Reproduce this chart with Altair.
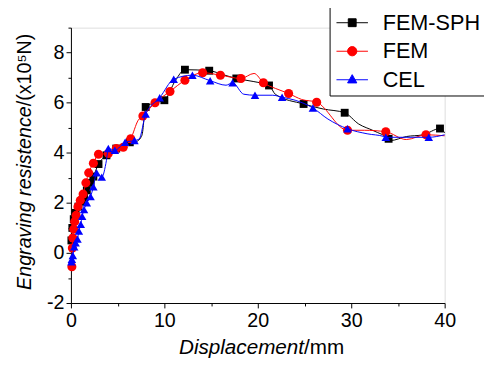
import altair as alt
import pandas as pd

# ---------------- data ----------------
series_names = ["FEM-SPH", "FEM", "CEL"]
series_colors = ["#000000", "#ff0000", "#0000ff"]

sph_x = [0.05, 0.15, 0.3, 0.5, 0.8, 1.1, 1.4, 1.7, 2.1, 2.4, 2.95, 3.8, 4.85, 6.3, 7.0, 7.6, 8.0,
         9.0, 10.0, 11.2, 12.2, 14.8, 16.3, 17.7, 19.5, 21.2, 21.9, 24.9, 27.0, 29.3, 30.8, 32.4,
         34.0, 34.2, 35.9, 37.7, 39.5, 40.0]
sph_y = [0.5, 1.0, 1.35, 1.6, 1.85, 2.05, 2.2, 2.5, 2.8, 3.05, 3.55, 3.9, 4.17, 4.42, 4.45, 4.7, 5.83,
         6.0, 6.1, 6.9, 7.32, 7.28, 7.12, 6.97, 6.85, 6.69, 6.33, 5.95, 5.75, 5.6, 5.15, 4.88,
         4.56, 4.49, 4.65, 4.72, 4.97, 4.8]
sph_mark = [1, 1, 1, 1, 1, 1, 1, 1, 1, 1, 1, 1, 1, 1, 0, 0, 1,
            0, 1, 0, 1, 1, 0, 1, 0, 1, 0, 1, 0, 1, 0, 0,
            1, 0, 0, 0, 1, 0]

fem_x = [0.1, 0.15, 0.2, 0.3, 0.4, 0.55, 0.75, 1.0, 1.3, 1.6, 1.9, 2.4, 2.95, 4.0, 4.85, 5.6, 6.4,
         7.2, 7.7, 9.0, 10.6, 12.2, 14.1, 16.0, 18.2, 19.6, 20.6, 21.9, 23.3, 24.7, 26.3, 29.6,
         31.4, 33.7, 35.9, 38.0, 40.0]
fem_y = [-0.55, 0.2, 0.6, 0.95, 1.25, 1.5, 1.85, 2.1, 2.35, 2.8, 3.2, 3.58, 3.94, 3.97, 4.17, 4.22, 4.56,
         5.3, 5.47, 6.0, 6.45, 6.9, 7.2, 7.1, 6.97, 7.17, 6.8, 6.57, 6.37, 6.13, 6.02, 4.9,
         4.9, 4.84, 4.53, 4.72, 4.68]
fem_mark = [1, 1, 1, 1, 1, 1, 1, 1, 1, 1, 1, 1, 1, 1, 1, 1, 1,
            0, 1, 1, 1, 1, 1, 1, 1, 0, 1, 0, 1, 0, 1, 1,
            0, 1, 0, 1, 0]

cel_x = [0.05, 0.1, 0.2, 0.35, 0.5, 0.7, 0.85, 1.05, 1.2, 1.4, 1.7, 2.1, 2.4, 2.75, 3.3, 3.8, 4.0,
         4.7, 5.8, 6.8, 7.3, 8.0, 9.5, 11.0, 13.0, 14.9, 16.6, 17.3, 18.5, 19.7, 21.6, 22.6, 24.0,
         25.9, 27.5, 29.6, 31.7, 33.5, 33.7, 38.3, 40.0]
cel_y = [-0.35, -0.25, -0.1, 0.24, 0.4, 0.55, 0.87, 1.14, 1.46, 1.73, 2.0, 2.25, 2.64, 3.2, 3.03, 3.7, 4.17,
         4.1, 4.42, 4.49, 4.55, 5.55, 6.2, 6.94, 7.1, 6.88, 6.7, 6.8, 6.34, 6.3, 6.3, 6.22, 6.1,
         5.79, 5.35, 4.96, 4.76, 4.65, 4.62, 4.62, 4.72]
cel_mark = [1, 1, 1, 1, 1, 1, 1, 1, 1, 1, 1, 1, 1, 1, 1, 0, 1,
            1, 1, 1, 0, 1, 1, 1, 1, 1, 0, 1, 0, 1, 0, 1, 0,
            1, 0, 1, 0, 0, 1, 1, 0]

x_ticks = [0, 5, 10, 15, 20, 25, 30, 35, 40]
y_ticks = [-2, -1, 0, 1, 2, 3, 4, 5, 6, 7, 8, 9]

# ---------------- frames ----------------
rows = []
for name, xs, ys, ms in [("FEM-SPH", sph_x, sph_y, sph_mark),
                         ("FEM", fem_x, fem_y, fem_mark),
                         ("CEL", cel_x, cel_y, cel_mark)]:
    for i, (xv, yv, mv) in enumerate(zip(xs, ys, ms)):
        rows.append({"series": name, "x": xv, "y": yv, "idx": i, "m": mv})
df = pd.DataFrame(rows)

FONT = "Liberation Sans"

xscale = alt.Scale(domain=[0, 40], nice=False, zero=False)
yscale = alt.Scale(domain=[-2, 9], nice=False, zero=False)

tick_cond_x = {"condition": {"test": "datum.value % 10 !== 0", "value": 3}, "value": 5}
tick_cond_y = {"condition": {"test": "datum.value % 2 !== 0", "value": 3}, "value": 5}

xaxis = alt.Axis(values=x_ticks, title=None, grid=False,
                 labelExpr="datum.value % 10 === 0 ? '' + datum.value : ''",
                 labelFont=FONT, labelFontSize=20, labelColor="black",
                 labelPadding=3, tickSize=tick_cond_x, tickColor="black",
                 domainColor="black", labelFlush=False, labelOverlap=False)
yaxis = alt.Axis(values=y_ticks, title=None, grid=False,
                 labelExpr="(datum.value % 2 === 0 && datum.value <= 8) ? '' + datum.value : ''",
                 labelFont=FONT, labelFontSize=20, labelColor="black",
                 labelPadding=2, tickSize=tick_cond_y, tickColor="black",
                 domainColor="black", labelFlush=False, labelOverlap=False)

enc_x = alt.X("x:Q", scale=xscale, axis=xaxis)
enc_y = alt.Y("y:Q", scale=yscale, axis=yaxis)

base = alt.Chart(df)

shapes = {"FEM-SPH": "square", "FEM": "circle", "CEL": "triangle-up"}
sizes = {"FEM-SPH": 64, "FEM": 85, "CEL": 75}

layers = []
for name, col in zip(series_names, series_colors):
    line = base.transform_filter(alt.datum.series == name).mark_line(
        interpolate="monotone", strokeWidth=1, color=col
    ).encode(x=enc_x, y=enc_y, order="idx:Q")
    pts = base.transform_filter((alt.datum.series == name) & (alt.datum.m == 1)).mark_point(
        filled=True, shape=shapes[name], size=sizes[name], color=col, opacity=1
    ).encode(x=enc_x, y=enc_y)
    layers += [line, pts]

# legend layer (hidden point, clipped away) with line+marker symbols
sq = "M-1.6,0H1.6M-0.4,-0.4H0.4V0.4H-0.4Z"
ci = "M-1.6,0H1.6M-0.47,0A0.47,0.47,0,1,0,0.47,0A0.47,0.47,0,1,0,-0.47,0Z"
tr = "M-1.6,0H1.6M0,-0.52L0.47,0.32H-0.47Z"
leg_df = pd.DataFrame({"series": series_names})
legend = alt.Legend(title=None, orient="none", legendX=263, legendY=-21,
                    strokeColor="black", fillColor="white", padding=5,
                    labelFont=FONT, labelFontSize=22, labelColor="black", labelLimit=0,
                    symbolSize=400, symbolOffset=7, labelOffset=20, rowPadding=7,
                    symbolStrokeWidth=1, symbolOpacity=1)
leg_layer = alt.Chart(leg_df).mark_point(filled=True, clip=True, strokeWidth=1).encode(
    x=alt.value(-200), y=alt.value(-200),
    shape=alt.Shape("series:N", scale=alt.Scale(domain=series_names, range=[sq, ci, tr]),
                    legend=legend),
    fill=alt.Fill("series:N", scale=alt.Scale(domain=series_names, range=series_colors),
                  legend=legend),
    stroke=alt.Stroke("series:N", scale=alt.Scale(domain=series_names, range=series_colors),
                      legend=legend),
)

# axis titles (mixed italic / upright)
one = pd.DataFrame({"a": [0]})
xt1 = alt.Chart(one).mark_text(text="Displacement", font=FONT, fontSize=21, fontStyle="italic",
                               align="right", baseline="alphabetic", color="black").encode(
    x=alt.value(237), y=alt.value(332))
xt2 = alt.Chart(one).mark_text(text="/mm", font=FONT, fontSize=21,
                               align="left", baseline="alphabetic", color="black").encode(
    x=alt.value(237), y=alt.value(332))
yt1 = alt.Chart(one).mark_text(text="Engraving resistence", font=FONT, fontSize=20, fontStyle="italic",
                               angle=270, align="right", baseline="alphabetic", color="black").encode(
    x=alt.value(-41), y=alt.value(80))
yt2 = alt.Chart(one).mark_text(text="/(x10\u2075N)", font=FONT, fontSize=20,
                               angle=270, align="left", baseline="alphabetic", color="black").encode(
    x=alt.value(-41), y=alt.value(80))

chart = alt.layer(*layers, leg_layer, xt1, xt2, yt1, yt2).properties(
    width=380, height=280,
    autosize=alt.AutoSizeParams(type="none"),
    padding={"left": 64, "top": 17, "right": 40, "bottom": 56},
).configure_view(strokeWidth=0).configure(background="white")

chart.save("out.html", embed_options={"renderer": "svg", "actions": False})
